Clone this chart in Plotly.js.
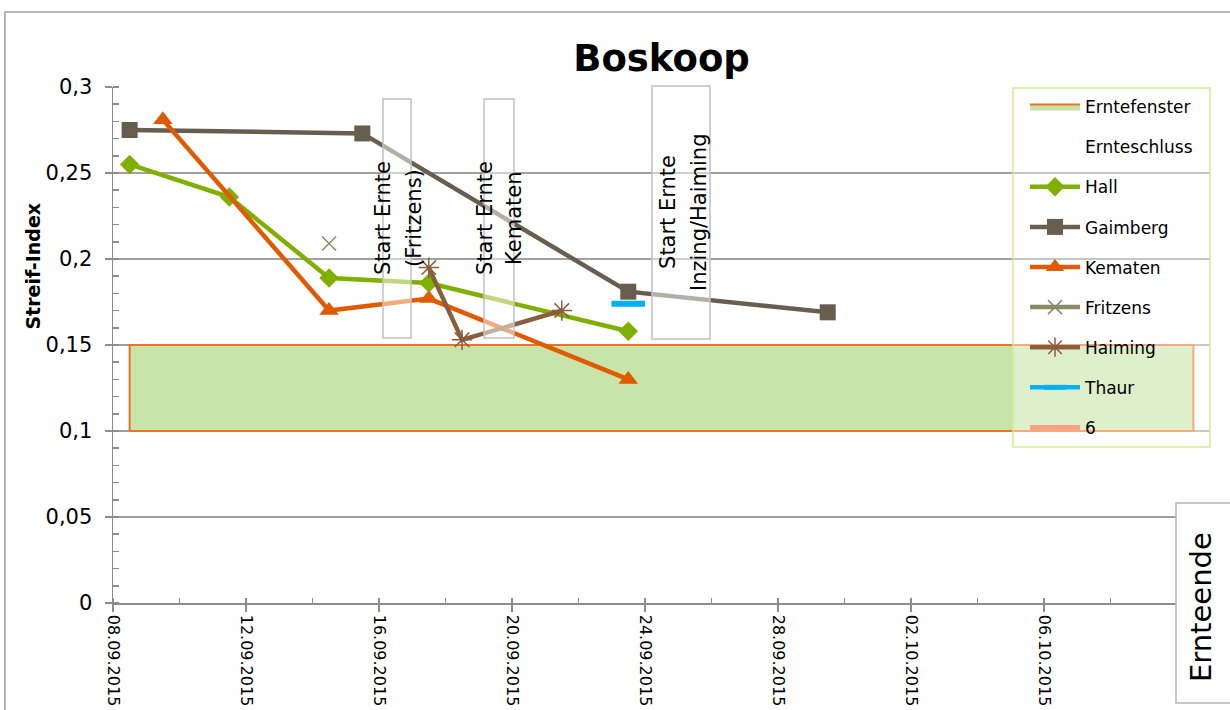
<!DOCTYPE html>
<html>
<head>
<meta charset="utf-8">
<script src="https://cdn.plot.ly/plotly-3.0.1.min.js"></script>
<style>
  html, body { margin: 0; padding: 0; background: #ffffff; }
  #chart { width: 1230px; height: 710px; }
</style>
</head>
<body>
<div id="chart"></div>
<script>
// ---- data ----
const windowX = ['2015-09-08 12:00', '2015-10-10 12:00'];
const windowY = [0.1, 0.15];

const hallX = ['2015-09-08 12:00', '2015-09-11 12:00', '2015-09-14 12:00', '2015-09-17 12:00', '2015-09-23 12:00'];
const hallY = [0.255, 0.236, 0.189, 0.186, 0.158];

const gaimbergX = ['2015-09-08 12:00', '2015-09-15 12:00', '2015-09-23 12:00', '2015-09-29 12:00'];
const gaimbergY = [0.275, 0.273, 0.181, 0.169];

const kematenX = ['2015-09-09 12:00', '2015-09-14 12:00', '2015-09-17 12:00', '2015-09-23 12:00'];
const kematenY = [0.281, 0.170, 0.177, 0.130];

const fritzensX = ['2015-09-14 12:00'];
const fritzensY = [0.209];

const haimingX = ['2015-09-17 12:00', '2015-09-18 12:00', '2015-09-21 12:00'];
const haimingY = [0.195, 0.153, 0.170];

const thaurX = ['2015-09-23 12:00'];
const thaurY = [0.174];

const xTickVals = ['2015-09-08', '2015-09-12', '2015-09-16', '2015-09-20', '2015-09-24', '2015-09-28', '2015-10-02', '2015-10-06'];
const xTickText = ['08.09.2015', '12.09.2015', '16.09.2015', '20.09.2015', '24.09.2015', '28.09.2015', '02.10.2015', '06.10.2015'];

const yTickVals = [0, 0.05, 0.1, 0.15, 0.2, 0.25, 0.3];
const yTickText = ['0', '0,05', '0,1', '0,15', '0,2', '0,25', '0,3'];

const chartTitle = 'Boskoop';
const yTitle = 'Streif-Index';
const noteFritzens = ['Start Ernte', '(Fritzens)'];
const noteKematen = ['Start Ernte', 'Kematen'];
const noteInzing = ['Start Ernte', 'Inzing/Haiming'];
const noteEnd = 'Ernteende';

// ---- styling ----
const FONT = 'DejaVu Sans, sans-serif';
const DAY = 86400000;

const traces = [
  {
    name: 'Erntefenster', legendgroup: 'g1',
    x: [windowX[0], windowX[1], windowX[1], windowX[0], windowX[0]],
    y: [windowY[0], windowY[0], windowY[1], windowY[1], windowY[0]],
    mode: 'lines', fill: 'toself', fillcolor: '#c8e4a8',
    line: { color: '#f07022', width: 2 }, hoverinfo: 'skip'
  },
  {
    name: 'Ernteschluss', legendgroup: 'g2',
    x: [null], y: [null], mode: 'lines',
    line: { color: 'rgba(0,0,0,0)', width: 0 }
  },
  {
    name: 'Hall', legendgroup: 'g3', x: hallX, y: hallY, mode: 'lines+markers',
    line: { color: '#7fb000', width: 4.5 },
    marker: { symbol: 'diamond', size: 15, color: '#7fb000' }
  },
  {
    name: 'Gaimberg', legendgroup: 'g4', x: gaimbergX, y: gaimbergY, mode: 'lines+markers',
    line: { color: '#675e50', width: 4.5 },
    marker: { symbol: 'square', size: 16, color: '#675e50' }
  },
  {
    name: 'Kematen', legendgroup: 'g5', x: kematenX, y: kematenY, mode: 'lines+markers',
    line: { color: '#e05a00', width: 4.5 },
    marker: { symbol: 'triangle-up', size: 17, color: '#e05a00' }
  },
  {
    name: 'Fritzens', legendgroup: 'g6', x: fritzensX, y: fritzensY, mode: 'lines+markers',
    line: { color: '#8a8a68', width: 4.5 },
    marker: { symbol: 'x-thin-open', size: 14, color: '#8a8a68', line: { color: '#8a8a68', width: 1.5 } }
  },
  {
    name: 'Haiming', legendgroup: 'g7', x: haimingX, y: haimingY, mode: 'lines+markers',
    line: { color: '#8a5e3c', width: 4.5 },
    marker: { symbol: 'asterisk-open', size: 17, color: '#8a5e3c', line: { color: '#8a5e3c', width: 1.5 } }
  },
  {
    name: 'Thaur', legendgroup: 'g8', x: thaurX, y: thaurY, mode: 'lines+markers',
    line: { color: '#00b0f0', width: 4.5 },
    marker: { symbol: 'line-ew-open', size: 24, color: '#00b0f0', line: { color: '#00b0f0', width: 6 } }
  },
  {
    name: '6', legendgroup: 'g9', x: [null], y: [null], mode: 'lines',
    line: { color: '#f7a382', width: 5 }
  }
];

function noteLines(lines, xs, yc) {
  return lines.map((t, i) => ({
    text: t, xref: 'paper', yref: 'paper', x: xs[i], y: yc,
    textangle: -90, showarrow: false, xanchor: 'center', yanchor: 'middle',
    font: { family: FONT, size: 21, color: '#000000' }
  }));
}

const boxStyle = { color: '#c0c0c0', width: 1.5 };

const layout = {
  width: 1230, height: 710,
  margin: { l: 113, r: 20, t: 87, b: 107, pad: 0 },
  paper_bgcolor: '#ffffff', plot_bgcolor: '#ffffff',
  separators: ',.',
  font: { family: FONT, color: '#000000' },
  showlegend: true,
  title: {
    text: chartTitle, x: 0.5, xref: 'paper', y: 1 - 58 / 710, yref: 'container',
    xanchor: 'center', yanchor: 'middle',
    font: { family: FONT, size: 37, color: '#000000', weight: 'bold' }
  },
  xaxis: {
    type: 'date',
    range: ['2015-09-08 00:00', '2015-10-11 00:00'],
    tickmode: 'array', tickvals: xTickVals, ticktext: xTickText, tickangle: 90,
    ticks: 'outside', ticklen: 7, tickwidth: 1.5, tickcolor: '#8c8c8c',
    minor: { dtick: 2 * DAY, tick0: '2015-09-08', ticks: 'inside', ticklen: 5, tickwidth: 1.5, tickcolor: '#8c8c8c', showgrid: false },
    showline: true, linecolor: '#8c8c8c', linewidth: 1.5,
    showgrid: false, zeroline: false,
    tickfont: { family: FONT, size: 16, color: '#000000' }
  },
  yaxis: {
    range: [0, 0.3],
    tickmode: 'array', tickvals: yTickVals, ticktext: yTickText,
    ticks: 'outside', ticklen: 7, tickwidth: 1.5, tickcolor: '#8c8c8c',
    minor: { dtick: 0.01, tick0: 0, ticks: 'inside', ticklen: 6, tickwidth: 1.5, tickcolor: '#8c8c8c', showgrid: false },
    showline: true, linecolor: '#8c8c8c', linewidth: 1.5,
    showgrid: true, gridcolor: '#a0a0a0', gridwidth: 1.5,
    zeroline: false,
    ticklabelstandoff: 8,
    tickfont: { family: FONT, size: 21, color: '#000000' }
  },
  legend: {
    x: (1025 - 113) / 1097, y: 0.996, xanchor: 'left', yanchor: 'top',
    bgcolor: 'rgba(0,0,0,0)', borderwidth: 0,
    font: { family: FONT, size: 17, color: '#000000' },
    traceorder: 'grouped', tracegroupgap: 15, itemwidth: 50, itemclick: false
  },
  shapes: [
    // outer chart border
    { type: 'rect', xref: 'paper', yref: 'paper', x0: -0.0985, x1: 1.05, y0: -0.3, y1: 1.1453,
      line: { color: '#a0a0a0', width: 1.5 }, fillcolor: 'rgba(0,0,0,0)', layer: 'above' },
    // legend frame
    { type: 'rect', xref: 'paper', yref: 'paper', x0: (1013 - 113) / 1097, x1: (1210 - 113) / 1097,
      y0: (603 - 447) / 516, y1: (603 - 88) / 516,
      line: { color: '#cdf08e', width: 1.5 }, fillcolor: 'rgba(255,255,255,0.4)', layer: 'above' },
    // annotation boxes
    { type: 'rect', xref: 'paper', yref: 'paper', x0: 0.2461, x1: 0.2717, y0: 0.5136, y1: 0.9767,
      line: boxStyle, fillcolor: 'rgba(255,255,255,0.5)', layer: 'above' },
    { type: 'rect', xref: 'paper', yref: 'paper', x0: 0.3382, x1: 0.3655, y0: 0.5136, y1: 0.9767,
      line: boxStyle, fillcolor: 'rgba(255,255,255,0.5)', layer: 'above' },
    { type: 'rect', xref: 'paper', yref: 'paper', x0: 0.4913, x1: 0.5442, y0: 0.5116, y1: 1.002,
      line: boxStyle, fillcolor: 'rgba(255,255,255,0.5)', layer: 'above' },
    // Ernteende box
    { type: 'rect', xref: 'paper', yref: 'paper', x0: 0.969, x1: 1.022, y0: -0.194, y1: 0.194,
      line: { color: '#b4b4b4', width: 1.5 }, fillcolor: '#ffffff', layer: 'above' }
  ],
  annotations: [
    { text: '<b>' + yTitle + '</b>', xref: 'paper', yref: 'paper', x: -0.0729, y: 0.652,
      textangle: -90, showarrow: false, xanchor: 'center', yanchor: 'middle',
      font: { family: FONT, size: 19, color: '#000000' } },
    ...noteLines(noteFritzens, [0.2461, 0.2744], 0.7461),
    ...noteLines(noteKematen, [0.3391, 0.3655], 0.7461),
    ...noteLines(noteInzing, [0.5059, 0.5342], 0.7578),
    { text: noteEnd, xref: 'paper', yref: 'paper', x: 0.9918, y: -0.0078,
      textangle: -90, showarrow: false, xanchor: 'center', yanchor: 'middle',
      font: { family: FONT, size: 29, color: '#000000' } }
  ]
};

Plotly.newPlot('chart', traces, layout, { displayModeBar: false, staticPlot: true });
</script>
</body>
</html>
